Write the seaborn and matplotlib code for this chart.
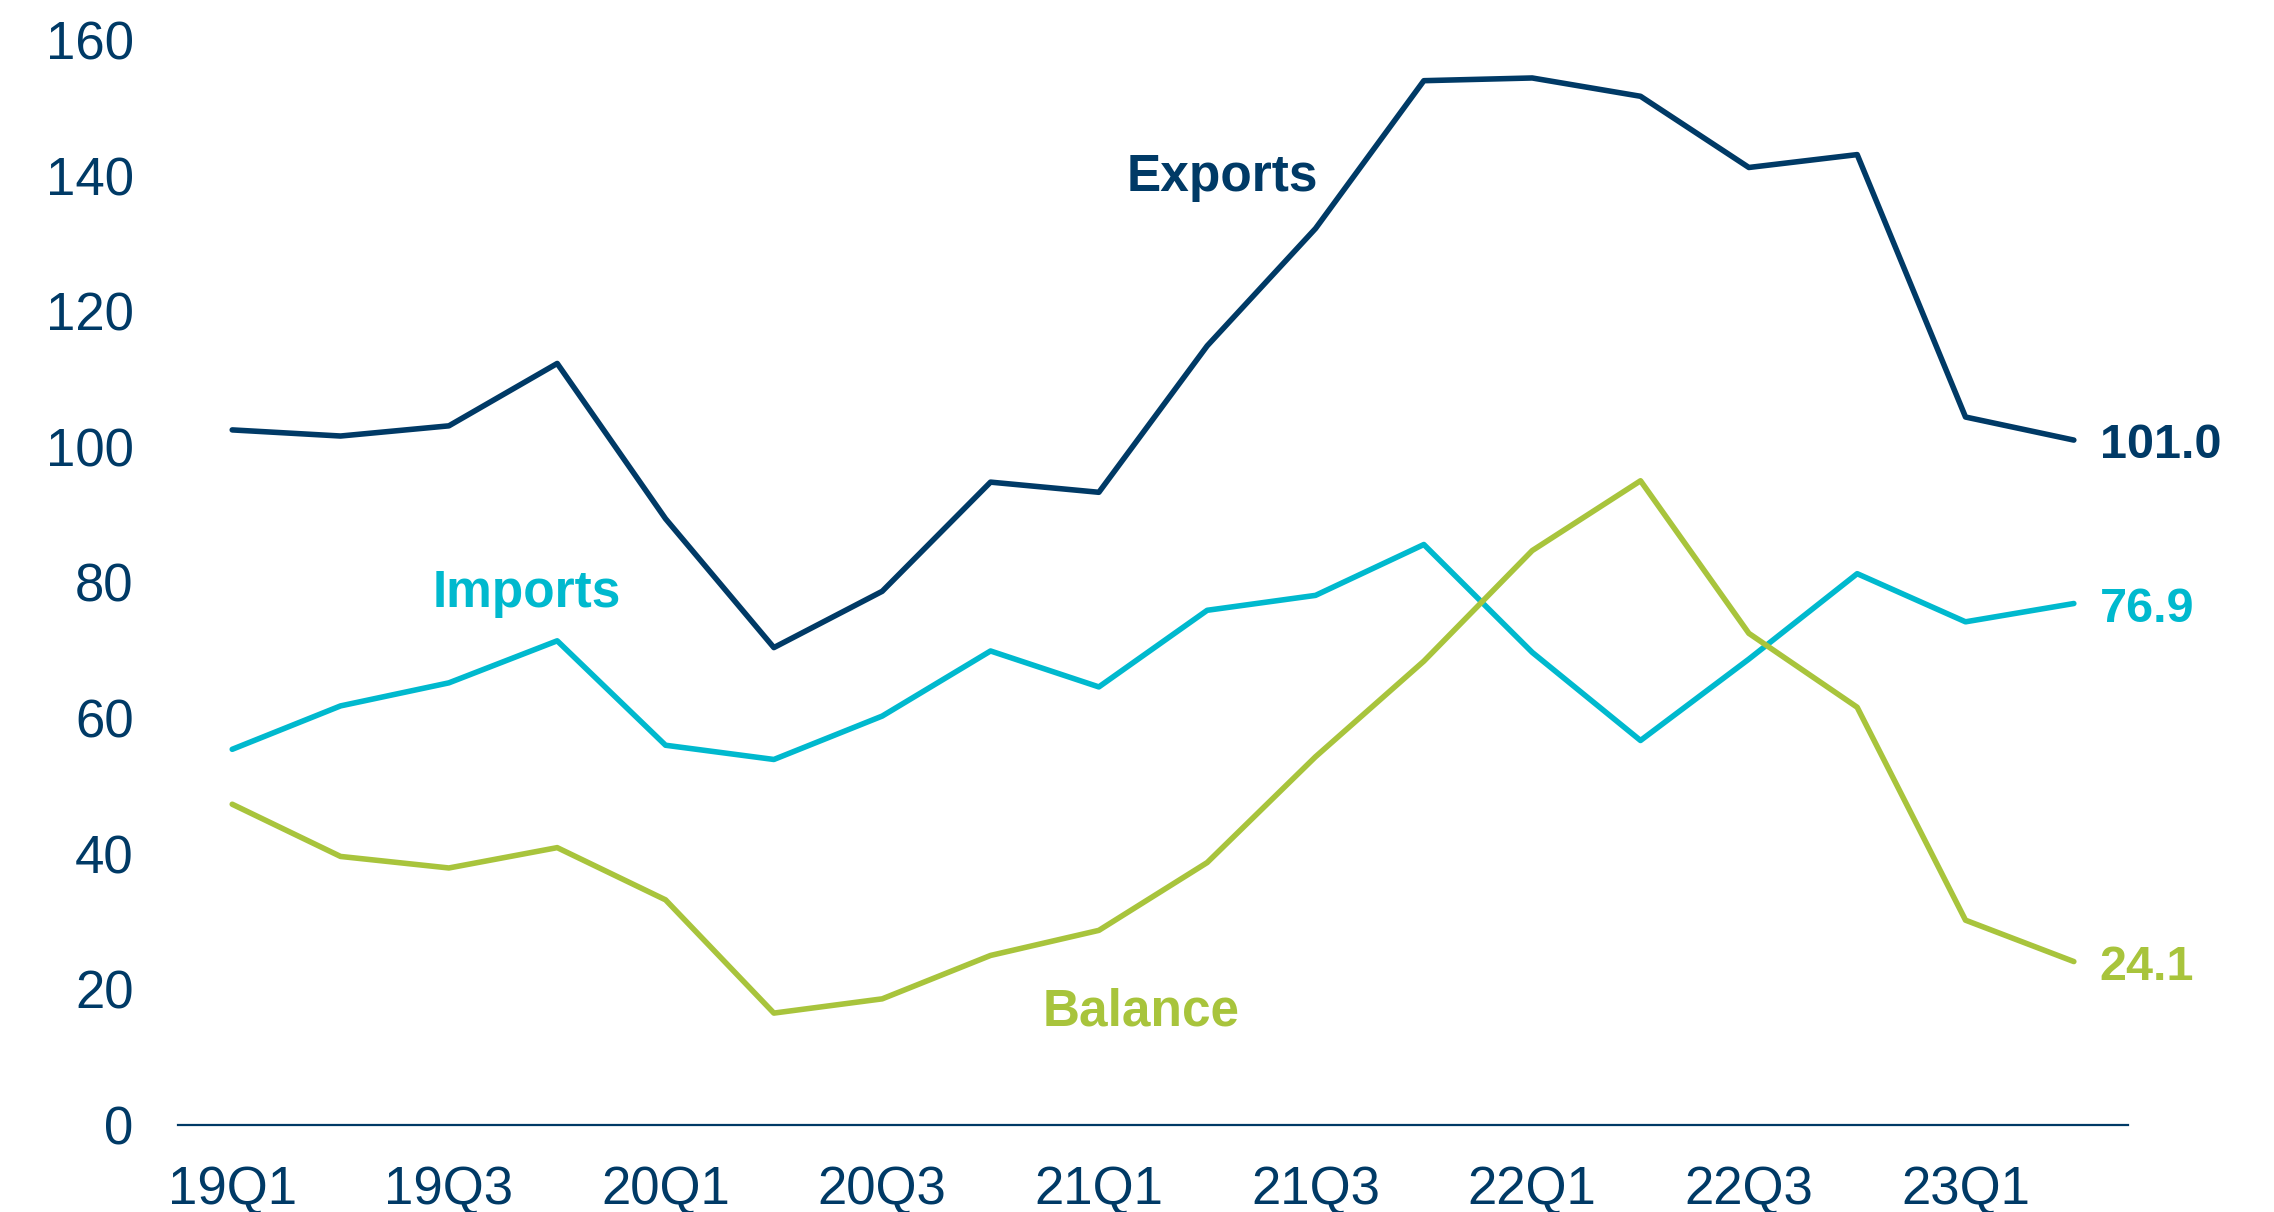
import pandas as pd
import matplotlib
matplotlib.use("Agg")
import matplotlib.pyplot as plt
import seaborn as sns

# --- data ---
quarters = ["19Q1", "19Q2", "19Q3", "19Q4", "20Q1", "20Q2", "20Q3", "20Q4",
            "21Q1", "21Q2", "21Q3", "21Q4", "22Q1", "22Q2", "22Q3", "22Q4",
            "23Q1", "23Q2"]
exports = [102.5, 101.6, 103.1, 112.3, 89.4, 70.4, 78.7, 94.8, 93.3,
           114.9, 132.2, 154.0, 154.4, 151.7, 141.2, 143.1, 104.4, 101.0]
imports = [55.4, 61.8, 65.2, 71.4, 56.0, 53.9, 60.3, 69.9, 64.6,
           75.9, 78.1, 85.6, 69.7, 56.7, 68.7, 81.3, 74.2, 76.9]
balance = [47.3, 39.6, 37.9, 40.9, 33.2, 16.5, 18.6, 25.0, 28.7,
           38.7, 54.3, 68.4, 84.7, 95.0, 72.5, 61.6, 30.2, 24.1]

series_names = ["Exports", "Imports", "Balance"]
colors = {"Exports": "#003A66", "Imports": "#00B9CE", "Balance": "#A8C43C"}
NAVY = "#003A66"

# long form for seaborn
df = pd.DataFrame({
    "idx": list(range(len(quarters))) * 3,
    "value": exports + imports + balance,
    "series": [s for s in series_names for _ in quarters],
})

sns.set_style("white")
plt.rcParams["font.family"] = ["Liberation Sans", "DejaVu Sans"]

fig = plt.figure(figsize=(22.74, 12.12), dpi=100)
ax = fig.add_axes([0.0783, 0.0718, 0.9358 - 0.0783, 0.967 - 0.0718])

sns.lineplot(data=df, x="idx", y="value", hue="series", palette=colors,
             linewidth=4.0, legend=False, ax=ax)

ax.set_xlim(-0.5, len(quarters) - 0.5)
ax.set_ylim(0, 160)
ax.set_yticks(range(0, 161, 20))
ax.set_xticks(range(0, len(quarters), 2))
ax.set_xticklabels(quarters[::2])
ax.set_xlabel("")
ax.set_ylabel("")

for side in ["top", "right", "left"]:
    ax.spines[side].set_visible(False)
ax.spines["bottom"].set_color(NAVY)
ax.spines["bottom"].set_linewidth(1.6)

ax.tick_params(axis="y", length=0, pad=32, labelsize=38, labelcolor=NAVY)
ax.tick_params(axis="x", length=0, pad=29, labelsize=38, labelcolor=NAVY)

# series labels
ax.text(9.14, 137.7, "Exports", color=colors["Exports"], fontsize=37,
        fontweight="bold", ha="center", va="baseline")
ax.text(2.72, 76.4, "Imports", color=colors["Imports"], fontsize=37,
        fontweight="bold", ha="center", va="baseline")
ax.text(8.39, 14.7, "Balance", color=colors["Balance"], fontsize=37,
        fontweight="bold", ha="center", va="baseline")

# end-of-line values
last = len(quarters) - 1
for name, vals in zip(series_names, [exports, imports, balance]):
    ax.text(last + 0.24, vals[-1] - 2.7, f"{vals[-1]:.1f}", color=colors[name],
            fontsize=35, fontweight="bold", ha="left", va="baseline")

fig.savefig("out.png", dpi=100)
